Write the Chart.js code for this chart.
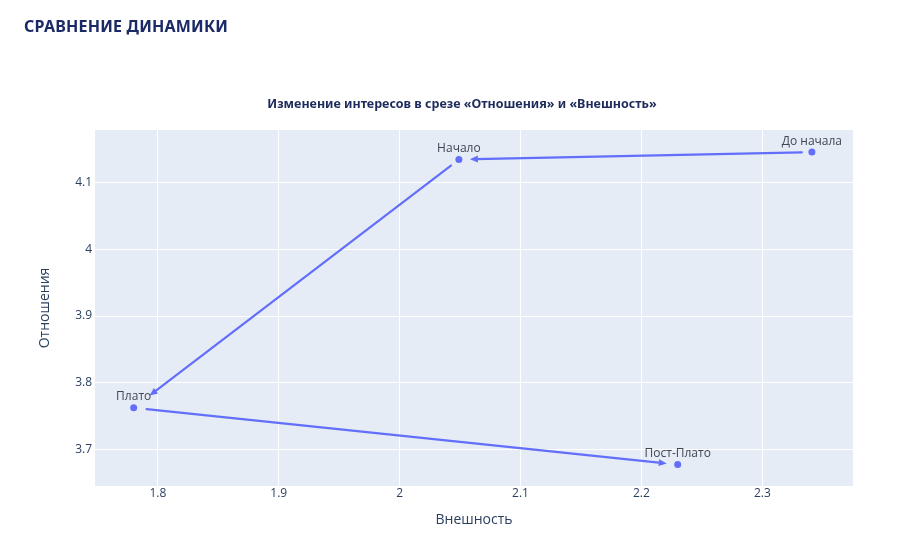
<!DOCTYPE html>
<html><head><meta charset="utf-8">
<script src="https://cdn.jsdelivr.net/npm/chart.js@4"></script>
<style>
html,body{margin:0;padding:0;background:#fff;}
#wrap{position:relative;width:900px;height:536px;overflow:hidden;}
#hdr{position:absolute;left:24px;top:16px;margin:0;font:700 16px/20px "Noto Sans",sans-serif;color:#1b2a66;letter-spacing:0.2px;}
#sub{position:absolute;left:0;top:96px;width:924px;text-align:center;font:700 12.5px/16px "Noto Sans",sans-serif;color:#1d2b5c;}
canvas{position:absolute;left:0;top:0;}
</style></head>
<body>
<div id="wrap">
<canvas id="c" width="900" height="536"></canvas>
<div id="hdr">СРАВНЕНИЕ ДИНАМИКИ</div>
<div id="sub">Изменение интересов в срезе «Отношения» и «Внешность»</div>
</div>
<script>
const stages = ["До начала", "Начало", "Плато", "Пост-Плато"];
const appearance = [2.341, 2.049, 1.780, 2.230];
const relations = [4.145, 4.134, 3.763, 3.678];
const xTicks = [1.8, 1.9, 2, 2.1, 2.2, 2.3];
const yTicks = [3.7, 3.8, 3.9, 4, 4.1];

const COLOR = '#636EFA';
const TXT = '#2a3f5f';
const FONT = '"Open Sans", Verdana, sans-serif';
const arrowStartGap = [10, 10, 13];
const arrowEndGap = [11, 20, 11];

const bgPlugin = {
  id: 'plotbg',
  beforeDraw(chart) {
    const {ctx, chartArea: a} = chart;
    ctx.save();
    ctx.fillStyle = '#E5ECF6';
    ctx.fillRect(a.left, a.top, a.right - a.left, a.bottom - a.top);
    ctx.restore();
  }
};

function drawArrow(ctx, x1, y1, x2, y2, g1, g2) {
  const dx = x2 - x1, dy = y2 - y1, L = Math.hypot(dx, dy);
  const ux = dx / L, uy = dy / L;
  const sx = x1 + ux * g1, sy = y1 + uy * g1;
  const ex = x2 - ux * g2, ey = y2 - uy * g2;
  const head = 8, hw = 3.5;
  ctx.beginPath();
  ctx.moveTo(sx, sy);
  ctx.lineTo(ex - ux * head * 0.7, ey - uy * head * 0.7);
  ctx.stroke();
  ctx.beginPath();
  ctx.moveTo(ex, ey);
  ctx.lineTo(ex - ux * head - uy * hw, ey - uy * head + ux * hw);
  ctx.lineTo(ex - ux * head + uy * hw, ey - uy * head - ux * hw);
  ctx.closePath();
  ctx.fill();
}

const arrowPlugin = {
  id: 'arrows',
  beforeDatasetsDraw(chart) {
    const {ctx} = chart;
    const pts = chart.getDatasetMeta(0).data;
    ctx.save();
    ctx.strokeStyle = COLOR;
    ctx.fillStyle = COLOR;
    ctx.lineWidth = 2.2;
    ctx.lineCap = 'round';
    for (let i = 0; i < pts.length - 1; i++) {
      drawArrow(ctx, pts[i].x, pts[i].y, pts[i + 1].x, pts[i + 1].y, arrowStartGap[i], arrowEndGap[i]);
    }
    ctx.restore();
  },
  afterDatasetsDraw(chart) {
    const {ctx} = chart;
    const pts = chart.getDatasetMeta(0).data;
    ctx.save();
    ctx.fillStyle = '#3f4656';
    ctx.font = '12px ' + FONT;
    ctx.textAlign = 'center';
    ctx.textBaseline = 'middle';
    pts.forEach((p, i) => ctx.fillText(stages[i], p.x, p.y - 11));
    ctx.restore();
  }
};

new Chart(document.getElementById('c'), {
  type: 'scatter',
  data: {
    datasets: [{
      data: appearance.map((x, i) => ({x, y: relations[i]})),
      backgroundColor: COLOR,
      borderColor: COLOR,
      pointRadius: 3.5,
      pointBorderWidth: 0,
      showLine: false
    }]
  },
  options: {
    responsive: false,
    devicePixelRatio: 1,
    animation: false,
    layout: {padding: {left: 37, right: 47, top: 130, bottom: 0}},
    plugins: {legend: {display: false}, tooltip: {enabled: false}, title: {display: false}},
    scales: {
      x: {
        type: 'linear', min: 1.748, max: 2.375,
        afterBuildTicks: s => { s.ticks = xTicks.map(v => ({value: v})); },
        afterFit: s => { s.height = 50; },
        grid: {color: '#ffffff', lineWidth: 1, drawTicks: false},
        border: {display: false},
        ticks: {padding: 0, color: TXT, font: {size: 12, family: FONT},
          callback: v => String(Number(v.toFixed(2)))},
        title: {display: true, text: 'Внешность', color: TXT, font: {size: 14, family: FONT}, padding: {top: 0, bottom: 8}}
      },
      y: {
        type: 'linear', min: 3.646, max: 4.178,
        afterBuildTicks: s => { s.ticks = yTicks.map(v => ({value: v})); },
        afterFit: s => { s.width = 58; },
        grid: {color: '#ffffff', lineWidth: 1, drawTicks: false},
        border: {display: false},
        ticks: {padding: 3, color: TXT, font: {size: 12, family: FONT},
          callback: v => String(Number(v.toFixed(2)))},
        title: {display: true, text: 'Отношения', color: TXT, font: {size: 14, family: FONT}, padding: {top: 0, bottom: 0}}
      }
    }
  },
  plugins: [bgPlugin, arrowPlugin]
});
</script>
</body></html>
